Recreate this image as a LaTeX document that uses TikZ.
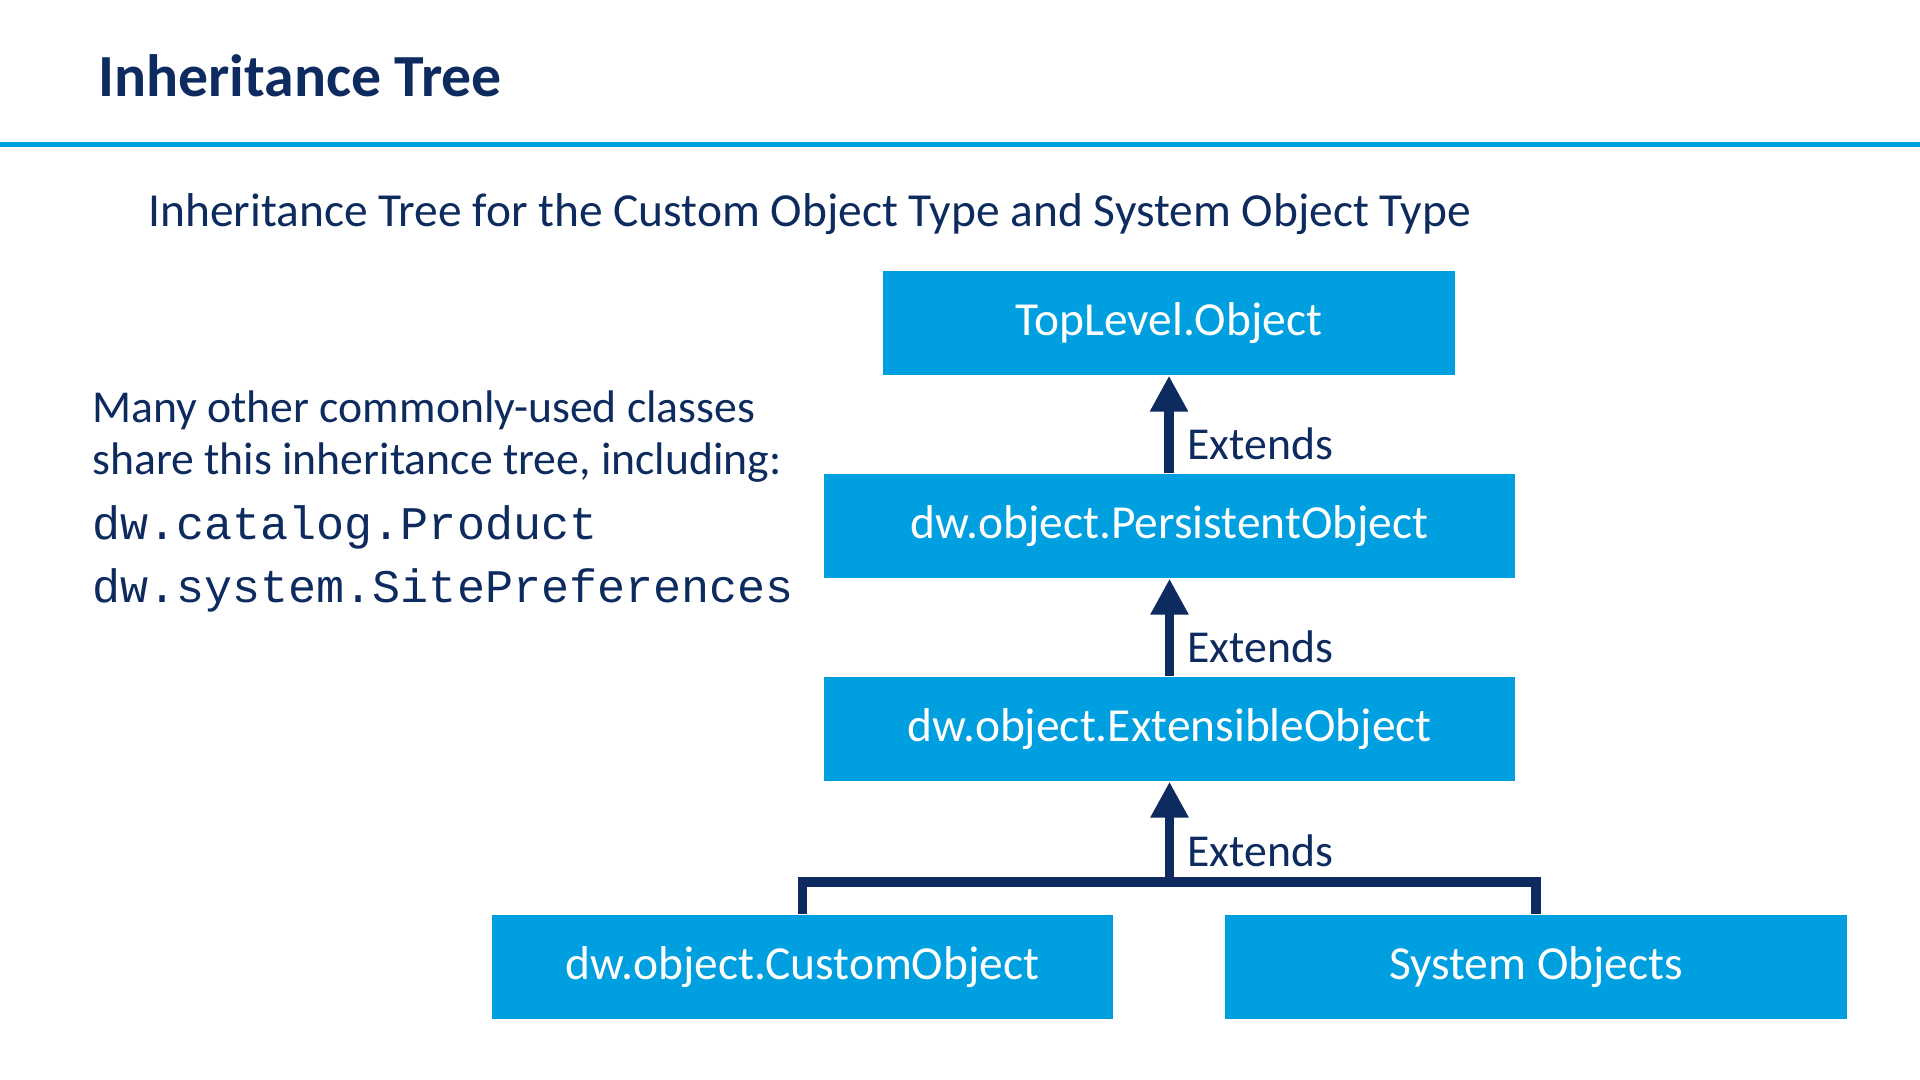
\documentclass[tikz,border=0pt]{standalone}
\usepackage{fontspec}
\setmainfont{Carlito}
\setmonofont{Liberation Mono}
\usetikzlibrary{arrows.meta,positioning}
\definecolor{navy}{HTML}{0D2B5E}
\definecolor{cyanbox}{HTML}{009FDF}
\tikzset{
  box/.style={fill=cyanbox, text=white, minimum height=1.04cm, font=\fontsize{13.5}{16}\selectfont},
  ext/.style={line width=2.6pt, navy, -{Triangle[width=0.36cm,length=0.36cm]}},
  lbl/.style={text=navy, anchor=west, font=\fontsize{13}{16}\selectfont}
}
\begin{document}
\begin{tikzpicture}
  \useasboundingbox (0,0) rectangle (19.2,-10.8);
  % title and rule
  \node[anchor=west, text=navy, font=\fontsize{17}{20}\selectfont\bfseries] (title) at (0.86,-0.76) {Inheritance Tree};
  \draw[cyanbox, line width=1.2pt] (0,-1.445) -- (19.2,-1.445);
  \node[anchor=west, text=navy, font=\fontsize{13.5}{16}\selectfont] (sub) at (1.36,-2.14) {Inheritance Tree for the Custom Object Type and System Object Type};
  % left text
  \node[lbl] (many) at (0.8,-4.10) {Many other commonly-used classes};
  \node[lbl] (share) at (0.8,-4.63) {share this inheritance tree, including:};
  \node[lbl, font=\ttfamily\fontsize{13.3}{16}\selectfont] (prod) at (0.8,-5.27) {dw.catalog.Product};
  \node[lbl, font=\ttfamily\fontsize{13.3}{16}\selectfont] (site) at (0.8,-5.90) {dw.system.SitePreferences};
  % boxes
  \node[box, minimum width=5.72cm] (top) at (11.69,-3.23) {TopLevel.Object};
  \node[box, minimum width=6.91cm] (pers) at (11.695,-5.26) {dw.object.PersistentObject};
  \node[box, minimum width=6.91cm] (exten) at (11.695,-7.29) {dw.object.ExtensibleObject};
  \node[box, minimum width=6.21cm] (cust) at (8.025,-9.67) {dw.object.CustomObject};
  \node[box, minimum width=6.22cm] (sys) at (15.36,-9.67) {System Objects};
  % connectors
  \draw[ext] (pers.north -| top.south) -- (top.south);
  \draw[ext] (exten.north) -- (pers.south);
  \coordinate (join) at (11.695,-8.82);
  \draw[line width=2.6pt, navy] (cust.north) |- (join) -| (sys.north);
  \draw[ext] ([yshift=-1.3pt]join) -- (exten.south);
  \node[lbl] (e1) at (11.75,-4.44) {Extends};
  \node[lbl] (e2) at (11.75,-6.47) {Extends};
  \node[lbl] (e3) at (11.75,-8.51) {Extends};
\end{tikzpicture}
\end{document}
